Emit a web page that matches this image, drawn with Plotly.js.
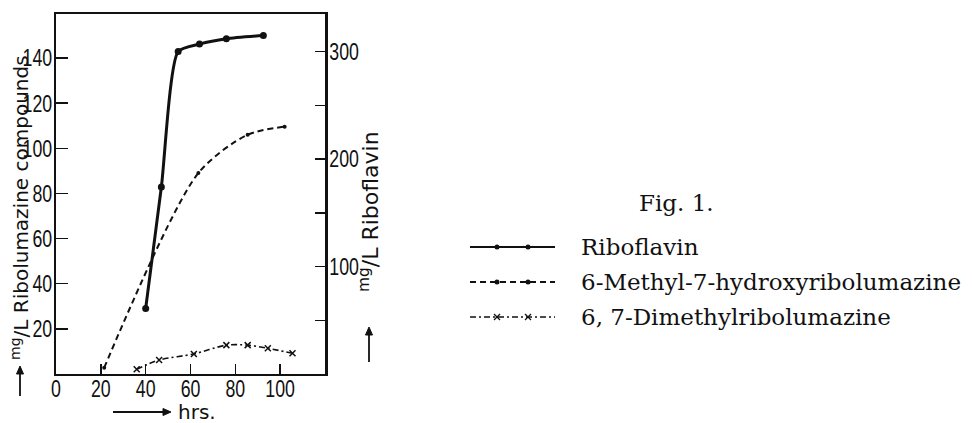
<!DOCTYPE html>
<html>
<head>
<meta charset="utf-8">
<script src="https://cdn.plot.ly/plotly-3.0.1.min.js"></script>
<style>
html,body{margin:0;padding:0;background:#fff;}
#chart{width:972px;height:423px;}
</style>
</head>
<body>
<div id="chart"></div>
<script>
// ---- data ----
const riboHours = [40, 47, 54.5, 64, 76, 92.5];
const riboMgL   = [61, 174, 300, 307, 312, 315];          // right axis (Riboflavin)
const methylHours = [21.5, 63.5, 85.5, 102];
const methylMgL   = [2.8, 89, 106, 109.6];                 // left axis
const dimethylHours = [36, 46, 61.5, 76, 85.5, 94.5, 105.5];
const dimethylMgL   = [2.1, 6.2, 8.9, 12.8, 12.8, 11.4, 9.2]; // left axis

const xTickVals = [0, 20, 40, 60, 80, 100];
const yLeftTickVals = [20, 40, 60, 80, 100, 120, 140];
const yRightTickVals = [100, 200, 300];
const yRightMinorVals = [50, 150, 250];

const seriesNames = ['Riboflavin', '6-Methyl-7-hydroxyribolumazine', '6, 7-Dimethylribolumazine'];

// ---- layout geometry (pixels) ----
const W = 972, H = 423;
const L = 56, R = 325, T = 14, B = 374;
const px = x => (x - L) / (R - L);
const py = y => (B - y) / (B - T);

const tickFont = {family: '"Liberation Sans", Arial, sans-serif', size: 24, color: '#111'};
const labFont = {family: '"DejaVu Sans", sans-serif', size: 20, color: '#111'};
const serif = {family: '"DejaVu Serif", "Liberation Serif", serif', size: 23, color: '#111'};

const traces = [
  {x: riboHours, y: riboMgL, yaxis: 'y2', name: seriesNames[0], mode: 'lines+markers',
   line: {color: '#111', width: 3, shape: 'spline', smoothing: 0.6},
   marker: {symbol: 'circle', size: 7, color: '#111'}},
  {x: methylHours, y: methylMgL, name: seriesNames[1], mode: 'lines+markers',
   line: {color: '#111', width: 2, dash: '6px,4px', shape: 'spline', smoothing: 0.8},
   marker: {symbol: 'circle', size: 4, color: '#111'}},
  {x: dimethylHours, y: dimethylMgL, name: seriesNames[2], mode: 'lines+markers',
   line: {color: '#111', width: 1.6, dash: '6px,3px,2px,3px', shape: 'spline', smoothing: 0.8},
   marker: {symbol: 'x-thin', size: 6, color: '#111', line: {color: '#111', width: 1.5}}}
];

// ---- custom legend ----
const legRows = [247, 282, 317];
const legX0 = 470, legX1 = 555;
const legDash = ['solid', '6px,4px', '6px,3px,2px,3px'];
const legW = [2, 2, 1.5];
const shapes = [];
const annotations = [];
const P = (x, y) => `${px(x)},${py(y)}`;
legRows.forEach((yy, i) => {
  shapes.push({type: 'line', xref: 'paper', yref: 'paper', x0: px(legX0), x1: px(legX1), y0: py(yy), y1: py(yy),
    line: {color: '#111', width: legW[i], dash: legDash[i]}});
  [497, 528].forEach(mx => {
    if (i < 2) {
      shapes.push({type: 'circle', xref: 'paper', yref: 'paper', x0: px(mx - 2.5), x1: px(mx + 2.5), y0: py(yy + 2.5), y1: py(yy - 2.5),
        fillcolor: '#111', line: {color: '#111', width: 0}});
    } else {
      shapes.push({type: 'line', xref: 'paper', yref: 'paper', x0: px(mx - 3), x1: px(mx + 3), y0: py(yy + 3), y1: py(yy - 3), line: {color: '#111', width: 1.3}});
      shapes.push({type: 'line', xref: 'paper', yref: 'paper', x0: px(mx - 3), x1: px(mx + 3), y0: py(yy - 3), y1: py(yy + 3), line: {color: '#111', width: 1.3}});
    }
  });
  annotations.push({xref: 'paper', yref: 'paper', x: px(579), y: py(yy), xanchor: 'left', yanchor: 'middle',
    text: seriesNames[i], showarrow: false, font: serif});
});

// axis titles
annotations.push({xref: 'paper', yref: 'paper', x: px(20), y: py(208), textangle: -90, xanchor: 'center', yanchor: 'middle',
  text: '<sup>mg</sup>/L Ribolumazine compounds', showarrow: false, font: labFont});
annotations.push({xref: 'paper', yref: 'paper', x: px(369), y: py(212), textangle: -90, xanchor: 'center', yanchor: 'middle',
  text: '<sup>mg</sup>/L Riboflavin', showarrow: false, font: {family: labFont.family, size: 22, color: '#111'}});
annotations.push({xref: 'paper', yref: 'paper', x: px(176), y: py(412), xanchor: 'left', yanchor: 'middle',
  text: 'hrs.', showarrow: false, font: {family: labFont.family, size: 20, color: '#111'}});

// arrows drawn as shapes
function arrow(x0, y0, x1, y1) {
  shapes.push({type: 'line', xref: 'paper', yref: 'paper', x0: px(x0), y0: py(y0), x1: px(x1), y1: py(y1), line: {color: '#111', width: 1.8}});
  const dx = x1 - x0, dy = y1 - y0, len = Math.hypot(dx, dy), ux = dx / len, uy = dy / len;
  const hx = x1 + ux * 8, hy = y1 + uy * 8;
  const a = [x1 - uy * 3.5, y1 + ux * 3.5], b = [x1 + uy * 3.5, y1 - ux * 3.5];
  shapes.push({type: 'path', xref: 'paper', yref: 'paper', path: `M${P(hx, hy)} L${P(a[0], a[1])} L${P(b[0], b[1])} Z`,
    fillcolor: '#111', line: {color: '#111', width: 1}});
}
arrow(20, 396, 20, 374);
arrow(369, 362, 369, 335);
arrow(113, 412, 163, 412);

const layout = {
  width: W, height: H,
  margin: {l: L, r: W - R, t: T, b: H - B, pad: 0},
  paper_bgcolor: '#fff', plot_bgcolor: '#fff',
  showlegend: false,
  title: {text: 'Fig. 1.', font: serif, xref: 'container', yref: 'container', x: 639 / W, xanchor: 'left',
    y: 1 - 203 / H, yanchor: 'middle'},
  xaxis: {range: [0, 120], tickvals: xTickVals, ticks: 'inside', ticklen: 10, tickwidth: 1.5, tickcolor: '#111',
    showline: true, linecolor: '#111', linewidth: 2, mirror: true, showgrid: false, zeroline: false,
    tickfont: tickFont, ticklabelstandoff: -8},
  yaxis: {range: [0, 159.5], tickvals: yLeftTickVals, ticks: 'inside', ticklen: 12, tickwidth: 1.5, tickcolor: '#111',
    showline: true, linecolor: '#111', linewidth: 2, showgrid: false, zeroline: false, tickfont: tickFont, ticklabelstandoff: -3},
  yaxis2: {range: [0, 335], overlaying: 'y', side: 'right', anchor: 'x', tickvals: yRightTickVals,
    ticks: 'inside', ticklen: 10, tickwidth: 1.5, tickcolor: '#111', showline: true, linecolor: '#111', linewidth: 2.5,
    minor: {tickvals: yRightMinorVals, ticks: 'inside', ticklen: 10, tickwidth: 1.5, tickcolor: '#111', showgrid: false},
    showgrid: false, zeroline: false, tickfont: tickFont, ticklabelstandoff: -3},
  shapes: shapes,
  annotations: annotations
};

Plotly.newPlot('chart', traces, layout, {displayModeBar: false, staticPlot: true}).then(gd => {
  // condensed tick numerals, as in the printed figure
  const sx = 0.74;
  gd.querySelectorAll('.xtick text, .ytick text, .y2tick text').forEach(t => {
    const bb = t.getBBox();
    const anc = t.getAttribute('text-anchor') || 'middle';
    const ax = anc === 'end' ? bb.x + bb.width : (anc === 'start' ? bb.x : bb.x + bb.width / 2);
    const prev = t.getAttribute('transform') || '';
    t.setAttribute('transform', `${prev} translate(${ax},0) scale(${sx},1) translate(${-ax},0)`);
  });
  // drop the empty placeholder title elements Plotly leaves for untitled axes
  gd.querySelectorAll('text').forEach(t => { if (!t.textContent.trim()) t.remove(); });
});
</script>
</body>
</html>
